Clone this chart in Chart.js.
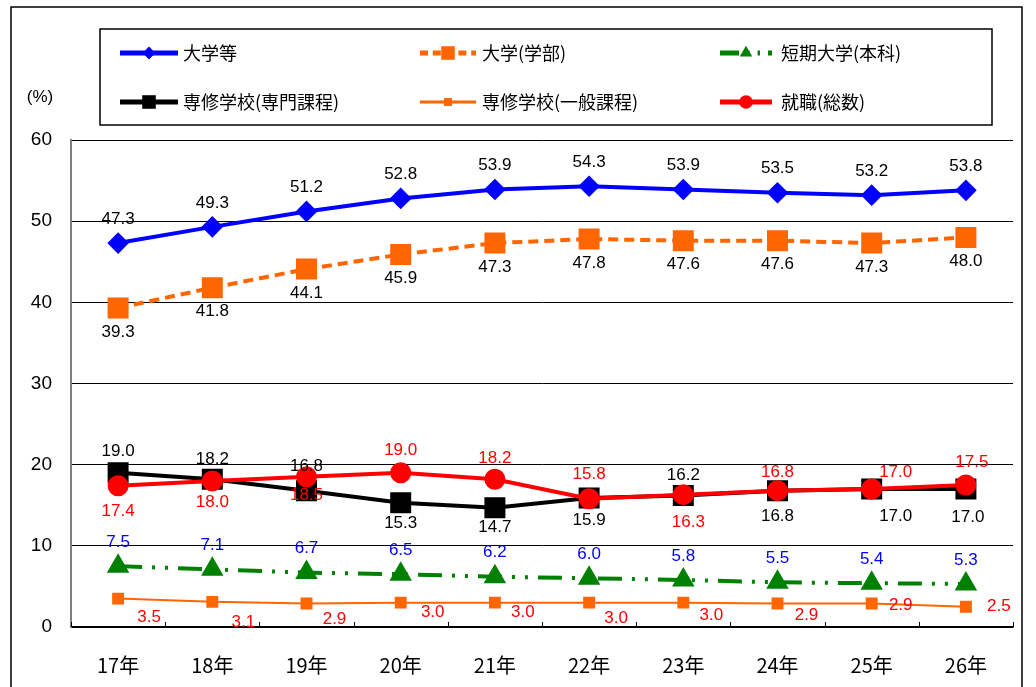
<!DOCTYPE html>
<html lang="ja">
<head>
<meta charset="utf-8">
<title>進学率・就職率の推移</title>
<script src="https://cdn.jsdelivr.net/npm/chart.js@4/dist/chart.umd.min.js"></script>
<style>
  body { margin: 0; background: #fff; }
  #wrap { position: relative; width: 1036px; height: 687px; }
</style>
</head>
<body>
<div id="wrap"><canvas id="myChart"></canvas></div>
<script>
// === データ ===
const years = ['17年', '18年', '19年', '20年', '21年', '22年', '23年', '24年', '25年', '26年'];

const daigakuTou   = [47.3, 49.3, 51.2, 52.8, 53.9, 54.3, 53.9, 53.5, 53.2, 53.8]; // 大学等
const daigakuGakubu = [39.3, 41.8, 44.1, 45.9, 47.3, 47.8, 47.6, 47.6, 47.3, 48.0]; // 大学(学部)
const tanki        = [7.5, 7.1, 6.7, 6.5, 6.2, 6.0, 5.8, 5.5, 5.4, 5.3];            // 短期大学(本科)
const senmon       = [19.0, 18.2, 16.8, 15.3, 14.7, 15.9, 16.2, 16.8, 17.0, 17.0];  // 専修学校(専門課程)
const ippan        = [3.5, 3.1, 2.9, 3.0, 3.0, 3.0, 3.0, 2.9, 2.9, 2.5];            // 専修学校(一般課程)
const shushoku     = [17.4, 18.0, 18.5, 19.0, 18.2, 15.8, 16.3, 16.8, 17.0, 17.5];  // 就職(総数)

const yTicks = [0, 10, 20, 30, 40, 50, 60];

const FONT = "'Liberation Sans', 'Noto Sans CJK JP', sans-serif";
const JFONT = "'Noto Sans CJK JP', 'Liberation Sans', sans-serif";

// 数値ラベルの位置(点からのずれ)
const offTou    = { dx: 0, dy: -24 };
const offGakubu = { dx: 0, dy: 24 };
const offTanki  = { dx: 0, dy: -24 };
const offSenmon = { dx: [0, 0, 0, 0, 0, 0, 0, 0, 24, 2], dy: [-21, -20, -24, 20, 20, 22, -20, 26, 27, 28] };
const offIppan  = { dx: [31, 31, 28, 32, 28, 27, 28, 29, 29, 33], dy: [19, 20, 16, 10, 10, 16, 13, 12, 2, 0] };
const offShu    = { dx: [0, 0, 0, 0, 0, 0, 5, 0, 24, 6], dy: [26, 21, 18, -22, -21, -24, 28, -18, -17, -23] };

const datasets = [
  {
    label: '大学等', data: daigakuTou,
    borderColor: '#0000ff', backgroundColor: '#0000ff', borderWidth: 4,
    pointStyle: 'rectRot', pointRadius: 8, order: 1,
    labelColor: '#000', labelOff: offTou
  },
  {
    label: '大学(学部)', data: daigakuGakubu,
    borderColor: '#ff6600', backgroundColor: '#ff6600', borderWidth: 4, borderDash: [10, 6],
    pointStyle: 'rect', pointRadius: 12, order: 1,
    labelColor: '#000', labelOff: offGakubu
  },
  {
    label: '短期大学(本科)', data: tanki,
    borderColor: '#008000', backgroundColor: '#008000', borderWidth: 4, borderDash: [24, 10, 3, 10, 3, 10],
    pointStyle: 'triangle', pointRadius: 9, order: 1,
    labelColor: '#0000ff', labelOff: offTanki
  },
  {
    label: '専修学校(専門課程)', data: senmon,
    borderColor: '#000000', backgroundColor: '#000000', borderWidth: 4,
    pointStyle: 'rect', pointRadius: 12, order: 1,
    labelColor: '#000', labelOff: offSenmon
  },
  {
    label: '専修学校(一般課程)', data: ippan,
    borderColor: '#ff6600', backgroundColor: '#ff6600', borderWidth: 2,
    pointStyle: 'rect', pointRadius: 7, order: 1,
    labelColor: '#ff0000', labelOff: offIppan
  },
  {
    label: '就職(総数)', data: shushoku,
    borderColor: '#ff0000', backgroundColor: '#ff0000', borderWidth: 4,
    pointStyle: 'circle', pointRadius: 8.5, order: 0,
    labelColor: '#ff0000', labelOff: offShu
  }
];

// 外枠と (%) の表示
const framePlugin = {
  id: 'frame',
  beforeDraw(chart) {
    const ctx = chart.ctx;
    ctx.save();
    ctx.fillStyle = '#fff';
    ctx.fillRect(0, 0, chart.width, chart.height);
    ctx.strokeStyle = '#000';
    ctx.lineWidth = 1.5;
    ctx.strokeRect(11, 7, 1011, 700);
    ctx.fillStyle = '#000';
    ctx.font = '17px ' + FONT;
    ctx.textAlign = 'center';
    ctx.textBaseline = 'middle';
    ctx.fillText('(%)', 40, 97);
    ctx.restore();
  }
};

// x軸の目盛り(内向き)
const xTickPlugin = {
  id: 'xTicks',
  afterDraw(chart) {
    const x = chart.scales.x;
    const ctx = chart.ctx;
    const half = (x.getPixelForValue(1) - x.getPixelForValue(0)) / 2;
    ctx.save();
    ctx.strokeStyle = '#000';
    ctx.lineWidth = 1;
    for (let i = 0; i <= years.length; i++) {
      const px = Math.round(x.getPixelForValue(0) - half + i * half * 2) + 0.5;
      ctx.beginPath();
      ctx.moveTo(px, x.top);
      ctx.lineTo(px, x.top - 5);
      ctx.stroke();
    }
    ctx.restore();
  }
};

// 数値ラベル
const valueLabelPlugin = {
  id: 'valueLabels',
  afterDatasetsDraw(chart) {
    const ctx = chart.ctx;
    ctx.save();
    ctx.font = '17px ' + FONT;
    ctx.textAlign = 'center';
    ctx.textBaseline = 'middle';
    chart.data.datasets.forEach((ds, di) => {
      const meta = chart.getDatasetMeta(di);
      ctx.fillStyle = ds.labelColor;
      meta.data.forEach((pt, i) => {
        const o = ds.labelOff;
        const dx = Array.isArray(o.dx) ? o.dx[i] : o.dx;
        const dy = Array.isArray(o.dy) ? o.dy[i] : o.dy;
        ctx.fillText(ds.data[i].toFixed(1), pt.x + dx, pt.y + dy);
      });
    });
    ctx.restore();
  }
};

// 凡例(枠付き、3列×2行)
const legendPlugin = {
  id: 'boxLegend',
  afterDraw(chart) {
    const ctx = chart.ctx;
    const cols = [[120, 178, 183], [420, 476, 482], [720, 772, 781]];
    const rows = [53, 102];
    ctx.save();
    ctx.strokeStyle = '#000';
    ctx.lineWidth = 1.5;
    ctx.strokeRect(100, 29, 892, 96);
    chart.data.datasets.forEach((ds, i) => {
      const c = cols[i % 3];
      const y = rows[Math.floor(i / 3)];
      ctx.strokeStyle = ds.borderColor;
      ctx.fillStyle = ds.backgroundColor;
      ctx.lineWidth = ds.borderWidth + 1;
      ctx.setLineDash(ds.borderDash ? ds.borderDash.map(v => v * 0.8) : []);
      ctx.beginPath();
      ctx.moveTo(c[0], y);
      ctx.lineTo(c[1], y);
      ctx.stroke();
      ctx.setLineDash([]);
      Chart.helpers.drawPoint(ctx, {
        pointStyle: ds.pointStyle,
        radius: ds.pointRadius * 0.8,
        rotation: 0,
        borderWidth: 0
      }, (c[0] + c[1]) / 2, y);
      ctx.fillStyle = '#000';
      ctx.font = '18px ' + JFONT;
      ctx.textAlign = 'left';
      ctx.textBaseline = 'middle';
      ctx.fillText(ds.label, c[2], y);
    });
    ctx.restore();
  }
};

const ctx = document.getElementById('myChart').getContext('2d');
new Chart(ctx, {
  type: 'line',
  data: {
    labels: years,
    datasets: datasets
  },
  options: {
    responsive: true,
    maintainAspectRatio: false,
    animation: false,
    layout: {
      padding: { top: 140, right: 23, left: 0, bottom: 0 }
    },
    elements: {
      line: { tension: 0, borderCapStyle: 'butt' },
      point: { borderWidth: 0, hoverRadius: 8 }
    },
    plugins: {
      legend: { display: false },
      tooltip: { enabled: false }
    },
    scales: {
      x: {
        offset: true,
        grid: { display: false },
        border: { display: true, color: '#000', width: 1.5 },
        ticks: {
          color: '#000',
          padding: 18,
          font: { family: JFONT, size: 20, weight: 'normal' }
        },
        afterFit: axis => { axis.height = 60; }
      },
      y: {
        min: 0,
        max: 60,
        afterBuildTicks: axis => { axis.ticks = yTicks.map(v => ({ value: v })); },
        grid: { color: '#000', lineWidth: 1, drawTicks: false },
        border: { display: true, color: '#808080', width: 2 },
        ticks: {
          color: '#000',
          padding: 19,
          font: { family: FONT, size: 19 }
        },
        afterFit: axis => { axis.width = 71; }
      }
    }
  },
  plugins: [framePlugin, xTickPlugin, valueLabelPlugin, legendPlugin]
});
</script>
</body>
</html>
